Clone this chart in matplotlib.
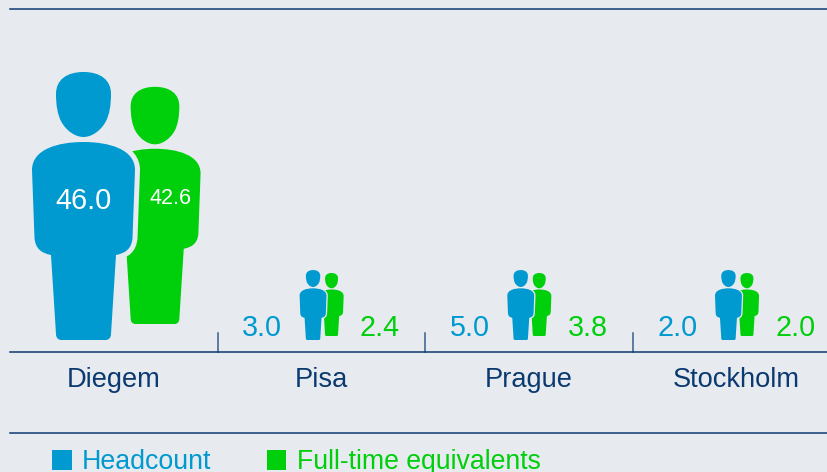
import numpy as np
import matplotlib
matplotlib.use("Agg")
import matplotlib.pyplot as plt
from matplotlib.path import Path
from matplotlib.patches import PathPatch, Rectangle
from matplotlib.transforms import Affine2D

plt.rcParams["font.family"] = ["Liberation Sans", "DejaVu Sans"]

cities = ["Diegem", "Pisa", "Prague", "Stockholm"]
headcount = [46.0, 3.0, 5.0, 2.0]
fte = [42.6, 2.4, 3.8, 2.0]
series_names = ["Headcount", "Full-time equivalents"]

BG = "#E7EBF0"
BLUE = "#0099D0"
GREEN = "#00CF0B"
NAVY = "#0B3A70"

M, L, C, Z = Path.MOVETO, Path.LINETO, Path.CURVE4, Path.CLOSEPOLY

# person icon, x centred on 0, y from 0 (top of head) to 268 (feet)
head = [
    (M, (0, 0)),
    (C, (17, 0)), (C, (27.5, 8)), (C, (27.5, 22)),
    (C, (27.5, 33)), (C, (26, 43)), (C, (22, 50)),
    (C, (17, 59)), (C, (8, 65)), (C, (0, 65)),
    (C, (-8, 65)), (C, (-17, 59)), (C, (-22, 50)),
    (C, (-26, 43)), (C, (-27.5, 33)), (C, (-27.5, 22)),
    (C, (-27.5, 8)), (C, (-17, 0)), (C, (0, 0)),
    (Z, (0, 0)),
]
body = [
    (M, (0, 70)),
    (C, (25, 70)), (C, (51.5, 77)), (C, (51.5, 98)),
    (L, (49, 166)),
    (C, (48, 177)), (C, (42, 181)), (C, (32.5, 183)),
    (L, (27.5, 262)),
    (C, (27.5, 266)), (C, (25, 268)), (C, (22, 268)),
    (L, (-22, 268)),
    (C, (-25, 268)), (C, (-27.5, 266)), (C, (-27.5, 262)),
    (L, (-32.5, 183)),
    (C, (-42, 181)), (C, (-48, 177)), (C, (-49, 166)),
    (L, (-51.5, 98)),
    (C, (-51.5, 77)), (C, (-25, 70)), (C, (0, 70)),
    (Z, (0, 70)),
]
codes = [c for c, p in head + body]
verts = [p for c, p in head + body]
person = Path(verts, codes)


def draw_person(ax, cx, bottom, scale, color, gap=0):
    tr = Affine2D().scale(scale).translate(cx, bottom - 268 * scale) + ax.transData
    if gap:
        ax.add_patch(PathPatch(person, transform=tr, fc=BG, ec=BG, lw=gap * 2 * 0.72, zorder=3))
    ax.add_patch(PathPatch(person, transform=tr, fc=color, ec="none", zorder=3))


fig = plt.figure(figsize=(8.28, 4.72), dpi=100, facecolor=BG)
ax = fig.add_axes([0, 0, 1, 1])
ax.set_xlim(0, 828)
ax.set_ylim(472, 0)
ax.axis("off")

slot = 207.7
x0 = 10
baseline = 352

for yy in [9, baseline, 433]:
    ax.plot([x0, 828], [yy, yy], color=NAVY, lw=1.1, zorder=2)

for i in range(1, len(cities)):
    tx = x0 + slot * i
    ax.plot([tx, tx], [baseline - 19, baseline], color=NAVY, lw=1.1, alpha=0.8, zorder=2)

for i, name in enumerate(cities):
    mid = x0 + slot * (i + 0.5)
    ax.text(mid - 0.5, 380, name, color=NAVY, fontsize=19.6, ha="center", va="center")
    if i == 0:
        # the first city gets the large icons with the values inside
        draw_person(ax, 155, baseline - 28, 0.885, GREEN)
        draw_person(ax, 83.5, baseline - 12, 1.0, BLUE, gap=5)
        ax.text(83.5, 201, f"{headcount[i]:.1f}", color="white", fontsize=20.8, ha="center", va="center", zorder=4)
        ax.text(171, 199, f"{fte[i]:.1f}", color="white", fontsize=15.5, ha="center", va="center", zorder=4)
    else:
        draw_person(ax, mid + 10, baseline - 16, 0.235, GREEN)
        draw_person(ax, mid - 8.5, baseline - 12, 0.261, BLUE, gap=1.3)
        ax.text(mid - 59.5, 327.5, f"{headcount[i]:.1f}", color=BLUE, fontsize=20.7, ha="center", va="center")
        ax.text(mid + 58.5, 327.5, f"{fte[i]:.1f}", color=GREEN, fontsize=20.7, ha="center", va="center")

# legend
ax.add_patch(Rectangle((52, 450), 20, 20, fc=BLUE, ec="none"))
ax.add_patch(Rectangle((267, 450), 19, 20, fc=GREEN, ec="none"))
ax.text(82, 469, series_names[0], color=BLUE, fontsize=19.3, ha="left", va="baseline")
ax.text(297, 469, series_names[1], color=GREEN, fontsize=19.2, ha="left", va="baseline")

fig.savefig("out.png", dpi=100, facecolor=BG)
